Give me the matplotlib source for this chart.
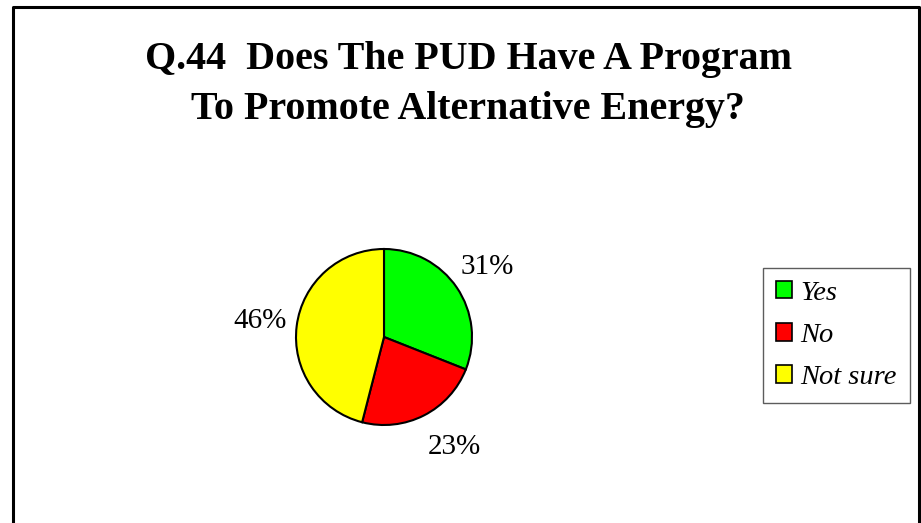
import matplotlib
matplotlib.use("Agg")
import matplotlib.pyplot as plt
from matplotlib.lines import Line2D
from matplotlib.patches import Patch

plt.rcParams['font.family'] = ['Liberation Serif', 'DejaVu Serif']

# Datos
categorias = ["Yes", "No", "Not sure"]
porcentajes = [31, 23, 46]
colores = ["#00ff00", "#ff0000", "#ffff00"]
titulo = ["Q.44  Does The PUD Have A Program", "To Promote Alternative Energy?"]

W, H = 921, 523
fig = plt.figure(figsize=(W / 100, H / 100), dpi=100)


def px(x, y):
    # píxeles (origen arriba-izquierda) -> coordenadas de figura
    return x / W, 1 - y / H


# Marco exterior (sin borde inferior)
xs, ys = zip(*[px(13, 540), px(13, 7), px(919, 7), px(919, 540)])
fig.add_artist(Line2D(xs, ys, color="black", lw=2.2, transform=fig.transFigure))

# Título (dos líneas)
for linea, yb in zip(titulo, [69, 119]):
    tx, ty = px(468, yb)
    fig.text(tx, ty, linea, ha="center", va="baseline", fontsize=28.8,
             fontweight="bold")

# Tarta
cx, cy, r = 384, 337, 88
x0, y0 = px(cx - r, cy + r)
ax = fig.add_axes([x0, y0, 2 * r / W, 2 * r / H])
_, _, autotextos = ax.pie(porcentajes, colors=colores, startangle=90,
                          counterclock=False, autopct="%1.0f%%", pctdistance=1.42,
                          wedgeprops=dict(edgecolor="black", linewidth=1.5),
                          textprops=dict(fontsize=21))
# pequeño ajuste de la etiqueta del 23% (como en el original)
x23, y23 = autotextos[1].get_position()
autotextos[1].set_position((x23 + 0.15, y23 + 0.02))
ax.set_xlim(-1, 1)
ax.set_ylim(-1, 1)
ax.set_aspect("equal")

# Leyenda
handles = [Patch(facecolor=c, edgecolor="black", lw=1.2) for c in colores]
lx, ly = px(836.5, 335.5)
leg = fig.legend(handles, categorias, loc="center", bbox_to_anchor=(lx, ly),
                 bbox_transform=fig.transFigure, fancybox=False,
                 prop=dict(style="italic", size=20.5), handlelength=0.55,
                 handleheight=0.55, handletextpad=0.3, labelspacing=0.6,
                 borderpad=0.45, borderaxespad=0)
leg.get_frame().set_edgecolor("#333333")
leg.get_frame().set_linewidth(1.0)

fig.savefig("out.png", dpi=100)
